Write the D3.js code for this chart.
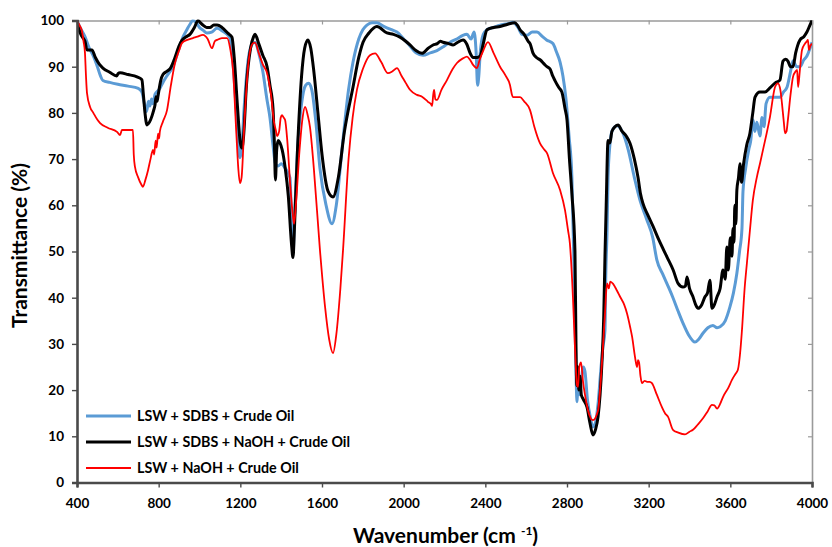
<!DOCTYPE html>
<html>
<head>
<meta charset="utf-8">
<script src="https://cdn.jsdelivr.net/npm/d3@7"></script>
<style>
  body { margin: 0; background: #fff; }
  text { font-family: Lato, "Open Sans", sans-serif; font-weight: bold; fill: #000; }
</style>
</head>
<body>
<div id="chart"></div>
<script>
const w = 832;
const h = 547;
const margin = { left: 77, right: 20, top: 20.5, bottom: 64.5 };

// tick values
const xTicks = [400, 800, 1200, 1600, 2000, 2400, 2800, 3200, 3600, 4000];
const yTicks = [0, 10, 20, 30, 40, 50, 60, 70, 80, 90, 100];

const seriesNames = [
  'LSW + SDBS + Crude Oil',
  'LSW + SDBS + NaOH + Crude Oil',
  'LSW + NaOH + Crude Oil'
];

// [wavenumber, transmittance]
const sdbsCrude = [
  [400,100],[415,98.5],[439,96.5],[460,94],[478,92.5],[500,90],[515,88],[527,87],[560,86.6],[600,86.2],
  [650,85.8],[700,85.3],[718,84.5],[730,82],[741,80.3],[750,82.5],[757,81.5],[765,83],[772,82],[782,84],
  [797,84.8],[806,85.3],[821,86.6],[840,88],[870,90],[900,94],[920,96.5],[938,98],[955,99.3],[967,100],
  [985,99.5],[1000,98.5],[1020,97.8],[1036,97.3],[1060,97.5],[1086,98.3],[1110,97.8],[1135,97],[1149,96.2],
  [1160,93],[1175,84],[1190,73],[1198,70.3],[1206,72],[1220,82],[1240,92],[1260,95],[1272,95.3],[1290,93],
  [1310,89],[1330,83],[1345,79],[1360,73],[1372,69],[1385,68.5],[1400,69],[1420,68],[1443,66],[1450,58],
  [1458,49.5],[1466,58],[1480,72],[1500,82],[1520,86],[1535,86.4],[1550,85],[1570,78],[1590,68],[1620,60],
  [1649,56],[1670,60],[1700,73],[1730,85],[1752,91],[1780,96],[1800,98],[1820,99],[1845,99.5],[1869,99.5],
  [1900,98.8],[1940,98],[1967,97.5],[2000,96],[2031,94.5],[2060,93],[2095,92.5],[2130,93],[2163,93.5],
  [2200,94.5],[2227,95.3],[2260,96],[2290,96.8],[2310,97],[2330,96],[2345,97.5],[2355,93],[2362,86],
  [2368,88],[2375,93],[2390,97],[2408,98],[2440,98.5],[2472,99],[2510,99.3],[2535,99.6],[2560,98.5],
  [2580,97],[2604,96.8],[2630,97.5],[2653,97.5],[2680,96.5],[2700,95.8],[2731,95],[2750,93],[2766,91],
  [2780,88],[2795,83],[2810,75],[2824,66],[2835,45],[2845,22],[2849,17.5],[2855,24],[2862,19],[2870,22],
  [2880,25],[2888,24],[2900,18],[2915,14],[2927,12],[2940,13],[2952,17],[2965,24],[2975,29],[2986,33],
  [2990,45],[2996,54],[3001,66],[3010,73],[3020,76],[3045,77.2],[3070,76],[3100,72],[3130,66],[3158,61],
  [3190,57],[3220,53],[3240,48.2],[3270,45],[3300,42],[3319,40],[3345,37],[3368,34.5],[3395,32],[3427,30.4],
  [3445,31],[3466,32.3],[3490,33.5],[3515,34],[3535,33.5],[3550,33.7],[3575,35],[3598,38],[3615,41],
  [3632,45.3],[3645,50],[3657,55],[3662,63],[3675,68],[3690,72],[3700,74],[3711,78.5],[3720,76],[3730,78],
  [3745,75],[3755,79],[3765,77],[3775,82],[3794,83.4],[3820,83.4],[3843,83.4],[3860,84.5],[3878,85.6],
  [3895,89],[3907,91.3],[3925,90],[3941,90],[3960,91.5],[3975,92.3],[3990,94],[4000,95.3]
];

const sdbsNaohCrude = [
  [400,100],[410,98],[425,96.5],[439,95.5],[449,93.6],[473,93.6],[490,92],[510,90.5],[527,89.7],[560,88.8],
  [595,88],[601,88.5],[611,88.7],[650,88.3],[694,87.8],[718,87.2],[725,84],[733,80],[743,77.4],[755,78],
  [767,79.3],[775,80.5],[782,81.7],[787,83.5],[792,82.5],[797,83.7],[810,87],[821,88.3],[840,89],[855,89.5],
  [880,92],[900,94.5],[914,95.7],[935,96.5],[953,97],[975,98.5],[993,100],[1005,99.5],[1017,99],[1035,98.5],
  [1051,98.5],[1070,99],[1086,99],[1110,98.5],[1140,97.2],[1159,96.4],[1170,92],[1185,82],[1200,73.5],
  [1208,72.4],[1216,75],[1230,86],[1250,94],[1265,96.5],[1272,97],[1290,95],[1310,92.5],[1331,90],[1345,86],
  [1360,81],[1367,73],[1372,65.5],[1378,72],[1385,74],[1394,73.5],[1405,72],[1420,68],[1435,62],[1450,52],
  [1458,48.7],[1465,55],[1480,72],[1500,88],[1515,94],[1531,95.8],[1545,94],[1560,89],[1580,80],[1600,71],
  [1630,63],[1654,61.8],[1680,66],[1710,76],[1752,85.6],[1780,92],[1801,95.3],[1830,97.3],[1869,98.7],
  [1918,97.3],[1950,97],[1982,96.4],[2010,95.5],[2031,94.7],[2060,93.5],[2090,92.9],[2120,94],[2144,94.7],
  [2165,95],[2180,95.5],[2193,95.3],[2220,95],[2242,94.7],[2265,95.3],[2291,95.8],[2310,94.8],[2325,93],
  [2340,92],[2360,92],[2374,92.3],[2390,95],[2408,98],[2440,98.5],[2472,98.7],[2510,99.2],[2545,99.5],
  [2557,99],[2570,98],[2590,97],[2610,95.5],[2619,95],[2633,93],[2650,92],[2668,91.5],[2690,90.5],[2702,90],
  [2717,89.5],[2730,88],[2741,87],[2760,85.5],[2775,84.5],[2790,81],[2800,78.5],[2812,70],[2824,62.5],
  [2839,50],[2844,30],[2848,21],[2853,25],[2858,20],[2864,23],[2870,19],[2880,18],[2898,16.3],[2912,13],
  [2927,10.3],[2940,11.5],[2952,14.2],[2962,19],[2971,25.8],[2980,36],[2986,49],[2992,60],[3001,74],
  [3010,73.5],[3020,76],[3035,77],[3050,77.4],[3070,76],[3090,75],[3109,73.4],[3130,70],[3148,66],[3160,62.5],
  [3172,60.4],[3195,58],[3221,55.5],[3250,52.5],[3290,48.8],[3320,46],[3344,43.1],[3368,42.3],[3380,42.5],
  [3388,44.5],[3400,42],[3417,40.2],[3430,38.5],[3442,37.7],[3460,38.5],[3476,40.2],[3488,41],[3500,43.8],
  [3510,37.7],[3522,38.5],[3535,40.2],[3550,42],[3564,46],[3575,44],[3583,51],[3590,46],[3600,53],[3608,49],
  [3613,55],[3618,52],[3622,60],[3627,56],[3632,63.3],[3640,66],[3647,69],[3655,65],[3665,69],[3680,73],
  [3696,75.6],[3710,80],[3721,83.4],[3745,84.5],[3770,84.5],[3794,85.4],[3820,86.5],[3843,87.1],[3858,91.2],
  [3870,91.6],[3882,91.2],[3895,90],[3907,90],[3920,93],[3941,95.8],[3960,96.5],[3975,97.5],[3990,99],
  [4000,100]
];

const naohCrude = [
  [400,100],[412,99],[424,97.8],[432,95.5],[439,93],[444,88],[449,84.3],[464,81.3],[480,80],[500,78.5],
  [513,77.8],[550,76.8],[596,75.9],[611,75.2],[620,76.3],[650,76.3],[674,76.3],[678,71],[684,68.3],[699,66.1],
  [715,64.5],[723,64],[735,65.5],[748,67.6],[760,70],[772,72],[778,71],[785,74],[790,72.5],[797,75.5],
  [802,74.5],[806,76],[820,78],[841,80.6],[860,86],[880,90.8],[900,93.5],[914,95.1],[940,95.8],[968,96.2],
  [990,96.5],[1017,96.9],[1040,96],[1061,94],[1075,95.5],[1086,95.8],[1110,96.2],[1135,96.2],[1150,94],
  [1164,89.3],[1180,76],[1190,68],[1198,64.8],[1206,66],[1220,78],[1240,91],[1260,95],[1272,95.2],[1290,93],
  [1310,90.5],[1331,88.6],[1350,84],[1365,78],[1375,76],[1380,75],[1390,76],[1398,79],[1404,79.5],[1412,79],
  [1419,78.5],[1430,74],[1445,64],[1458,57.5],[1463,56],[1472,60],[1490,72],[1505,79],[1517,81.3],[1530,79.5],
  [1541,77],[1560,68],[1590,50.3],[1615,38],[1635,31],[1654,28],[1670,32],[1690,42],[1703,50.3],[1730,70],
  [1750,79],[1771,85],[1800,89.5],[1835,92.5],[1860,92.9],[1890,91],[1923,88.6],[1945,89],[1967,89.7],
  [1990,88],[2010,86.5],[2031,85],[2065,83.9],[2090,83.5],[2119,82.4],[2135,81.8],[2139,81.5],[2145,84],
  [2149,85],[2155,83],[2163,82.8],[2185,85],[2212,87.1],[2240,89.5],[2261,90.8],[2290,91.8],[2310,92.2],
  [2325,91.5],[2340,90.4],[2359,89.7],[2372,91.5],[2390,93.5],[2413,95.3],[2440,93],[2472,90],[2500,88],
  [2521,86],[2530,84],[2535,83.4],[2570,83.4],[2590,82.5],[2619,80.6],[2640,77],[2668,73.4],[2690,72],
  [2702,71.3],[2731,67],[2766,63.3],[2790,59],[2805,54.6],[2814,51.8],[2829,40.2],[2839,29.3],[2849,21],
  [2854,20.7],[2860,25],[2869,26],[2878,22],[2890,18.5],[2903,15.6],[2927,13.5],[2952,15.6],[2971,25.8],
  [2986,36.6],[2996,43.1],[3005,42],[3012,43.5],[3026,43],[3045,41.5],[3060,40.2],[3080,38.5],[3094,36.6],
  [3110,33.5],[3119,31.5],[3133,27.2],[3143,25],[3148,26.5],[3153,26],[3160,23],[3167,21.5],[3180,22],
  [3192,21.8],[3205,21.8],[3216,21.5],[3240,19],[3265,16.3],[3280,15],[3295,14.2],[3319,11.4],[3345,10.8],
  [3378,10.4],[3400,11],[3417,11.4],[3440,12.5],[3466,13.9],[3490,15.5],[3510,16.8],[3522,16.7],[3535,16],
  [3550,17],[3564,18.5],[3590,20.5],[3608,22.2],[3625,23.5],[3637,24.4],[3650,29],[3657,33],[3670,42],
  [3681,47.4],[3696,54.6],[3710,61],[3730,66.1],[3745,69],[3760,72],[3794,79.1],[3819,85.6],[3833,86.4],
  [3845,85],[3853,82],[3862,78],[3868,75.6],[3875,76],[3882,78.5],[3895,84],[3907,87.8],[3920,89],
  [3927,89.3],[3932,85.6],[3940,89],[3951,93.6],[3966,95],[3975,95.5],[3980,95.8],[3985,93.6],[3992,94.5],
  [4000,95]
];

const seriesData = [sdbsCrude, sdbsNaohCrude, naohCrude];
const seriesColors = ['#5B9BD5', '#000000', '#FF0000'];
const seriesWidths = [3, 3, 1.8];

const xScale = d3.scaleLinear().domain([400, 4000]).range([margin.left, w - margin.right]);
const yScale = d3.scaleLinear().domain([0, 100]).range([h - margin.bottom, margin.top]);

const svg = d3.select('#chart').append('svg')
  .attr('width', w)
  .attr('height', h)
  .style('background', '#fff');

// mirror axes (top and right) with inner ticks
const topAxis = svg.append('g')
  .attr('transform', `translate(0,${margin.top})`)
  .call(d3.axisBottom(xScale).tickValues(xTicks).tickSize(4).tickFormat(''));
const rightAxis = svg.append('g')
  .attr('transform', `translate(${w - margin.right},0)`)
  .call(d3.axisLeft(yScale).tickValues(yTicks).tickSize(4).tickFormat(''));
[topAxis, rightAxis].forEach((g) => {
  g.select('.domain').attr('stroke', '#9a9a9a').attr('stroke-width', 1.6);
  g.selectAll('.tick line').attr('stroke', '#9a9a9a').attr('stroke-width', 1.2);
});

const clipId = 'plot-clip';
svg.append('clipPath').attr('id', clipId)
  .append('rect')
  .attr('x', margin.left)
  .attr('y', margin.top - 1)
  .attr('width', w - margin.right - margin.left)
  .attr('height', h - margin.bottom - margin.top + 1);

const line = d3.line()
  .x((d) => xScale(d[0]))
  .y((d) => yScale(d[1]))
  .curve(d3.curveMonotoneX);

svg.append('g')
  .attr('clip-path', `url(#${clipId})`)
  .selectAll('path')
  .data(seriesData)
  .enter()
  .append('path')
  .attr('d', (d) => line(d))
  .attr('fill', 'none')
  .attr('stroke', (d, i) => seriesColors[i])
  .attr('stroke-width', (d, i) => seriesWidths[i])
  .attr('stroke-linejoin', 'round');

// main axes
const xAxis = svg.append('g')
  .attr('transform', `translate(0,${h - margin.bottom})`)
  .call(d3.axisBottom(xScale).tickValues(xTicks).tickSize(5).tickPadding(11).tickFormat(d3.format('d')));
const yAxis = svg.append('g')
  .attr('transform', `translate(${margin.left},0)`)
  .call(d3.axisLeft(yScale).tickValues(yTicks).tickSize(5).tickPadding(8).tickFormat(d3.format('d')));
[xAxis, yAxis].forEach((g) => {
  g.select('.domain').attr('stroke', '#4a4a4a').attr('stroke-width', 2.6);
  g.selectAll('.tick line').attr('stroke', '#4a4a4a').attr('stroke-width', 1.4);
  g.selectAll('.tick text')
    .style('font-family', 'Lato, sans-serif')
    .style('font-weight', 'bold')
    .style('font-size', '13.5px')
    .attr('fill', '#000');
});

// axis titles
svg.append('text')
  .attr('transform', `translate(27,${(margin.top + h - margin.bottom) / 2 - 6}) rotate(-90)`)
  .attr('text-anchor', 'middle')
  .style('font-size', '21px')
  .text('Transmittance (%)');

const xTitle = svg.append('text')
  .attr('x', (margin.left + w - margin.right) / 2 + 1)
  .attr('y', 543)
  .attr('text-anchor', 'middle')
  .style('font-size', '21px');
xTitle.append('tspan').text('Wavenumber (cm ');
xTitle.append('tspan').attr('dy', -8).style('font-size', '12px').text('-1');
xTitle.append('tspan').attr('dy', 8).text(')');

// legend
const legend = svg.append('g').attr('transform', 'translate(86,416)');
const legendItems = legend.selectAll('g')
  .data(seriesNames)
  .enter()
  .append('g')
  .attr('transform', (d, i) => `translate(0,${i * 26})`);
legendItems.append('line')
  .attr('x1', 0).attr('x2', 45)
  .attr('stroke', (d, i) => seriesColors[i])
  .attr('stroke-width', (d, i) => seriesWidths[i]);
legendItems.append('text')
  .attr('x', 51)
  .attr('dy', '0.35em')
  .style('font-size', '14.3px')
  .text((d) => d);
</script>
</body>
</html>
